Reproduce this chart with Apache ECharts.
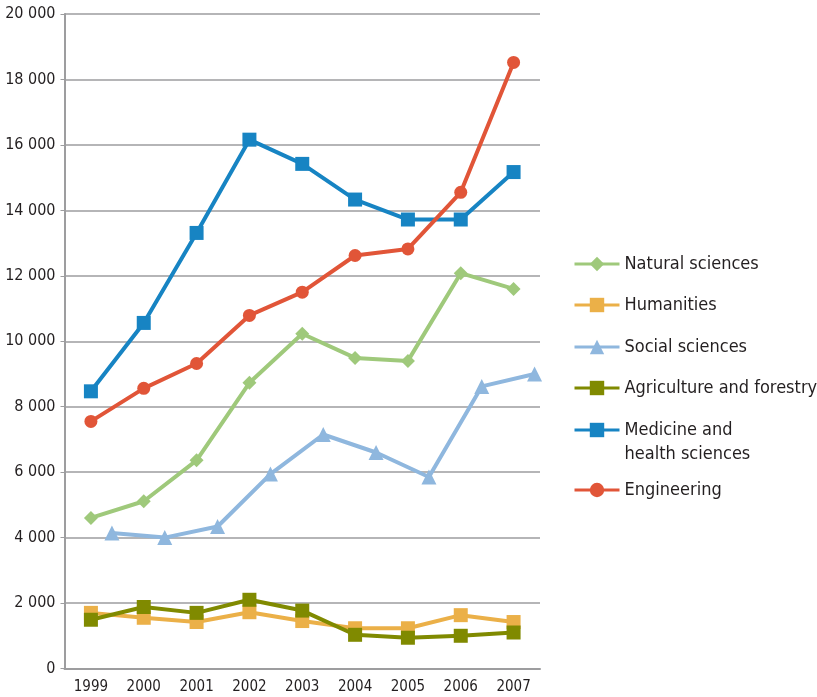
<!DOCTYPE html>
<html>
<head>
<meta charset="utf-8">
<script src="https://cdn.jsdelivr.net/npm/echarts@6/dist/echarts.min.js"></script>
<style>
  html, body { margin: 0; padding: 0; background: #fff; }
  #chart { width: 817px; height: 697px; }
</style>
</head>
<body>
<div id="chart"></div>
<script>
// Categories and series values
const years = ['1999', '2000', '2001', '2002', '2003', '2004', '2005', '2006', '2007'];
const naturalSciences = [4600, 5110, 6360, 8730, 10230, 9490, 9400, 12080, 11600];
const humanities = [1700, 1550, 1420, 1720, 1450, 1230, 1230, 1630, 1420];
const socialSciences = [4140, 4000, 4340, 5940, 7150, 6600, 5850, 8620, 9000];
const agricultureForestry = [1490, 1880, 1700, 2100, 1770, 1030, 940, 1000, 1100];
const medicineHealth = [8470, 10560, 13310, 16160, 15420, 14330, 13720, 13720, 15170];
const engineering = [7550, 8560, 9320, 10790, 11500, 12620, 12820, 14550, 18520];
const yTicks = [0, 2000, 4000, 6000, 8000, 10000, 12000, 14000, 16000, 18000, 20000];

const FONT = "'DejaVu Sans Condensed', 'DejaVu Sans', sans-serif";
const TEXT = '#231f20';
const GRID_COLOR = '#9d9d9f';

const names = ['Natural sciences', 'Humanities', 'Social sciences', 'Agriculture and forestry',
  'Medicine and health sciences', 'Engineering'];
const colors = ['#9fc97b', '#ebb048', '#8fb7de', '#808a00', '#1784c3', '#e15538'];
const symbols = ['diamond', 'rect', 'triangle', 'rect', 'rect', 'circle'];
const symbolSizes = [14, 14, 15, 14, 14, 13];
const seriesData = [naturalSciences, humanities, socialSciences, agricultureForestry, medicineHealth, engineering];
const legendTops = [252, 293, 335, 376, 394, 478];

const fmt = v => v === 0 ? '0' : String(v).replace(/\B(?=(\d{3})+(?!\d))/g, ' ');

// Legend label text; the two-line entry gets a blank first line so that
// "Medicine and" sits level with its icon
const legendLabel = name => name === 'Medicine and health sciences'
  ? '\nMedicine and\nhealth sciences' : name;

const chart = echarts.init(document.getElementById('chart'), null, { renderer: 'canvas' });

const gridBase = { top: 14, bottom: 28.5, width: 475.5, outerBoundsMode: 'none', containLabel: false };

const option = {
  animation: false,
  backgroundColor: '#fff',
  textStyle: { fontFamily: FONT },
  grid: [
    Object.assign({ left: 64.5 }, gridBase),
    // social sciences are plotted slightly to the right of the year marks
    Object.assign({ left: 85.5 }, gridBase)
  ],
  xAxis: [
    {
      type: 'category', gridIndex: 0, data: years, boundaryGap: true,
      axisLine: { lineStyle: { color: GRID_COLOR, width: 2 } },
      axisTick: { show: false },
      axisLabel: { color: TEXT, fontSize: 15, fontFamily: FONT, margin: 11 },
      splitLine: { show: false }
    },
    {
      type: 'category', gridIndex: 1, data: years, boundaryGap: true, show: false
    }
  ],
  yAxis: [
    {
      type: 'value', gridIndex: 0, min: 0, max: 20000, interval: 2000,
      axisLine: { show: true, lineStyle: { color: GRID_COLOR, width: 2 } },
      axisTick: { show: true, length: 4, lineStyle: { color: GRID_COLOR, width: 1 } },
      axisLabel: {
        color: TEXT, fontSize: 16, fontFamily: FONT, margin: 9,
        formatter: v => yTicks.includes(v) ? fmt(v) : ''
      },
      splitLine: { show: true, lineStyle: { color: GRID_COLOR, width: 1.5 } }
    },
    {
      type: 'value', gridIndex: 1, min: 0, max: 20000, interval: 2000, show: false,
      splitLine: { show: false }
    }
  ],
  legend: names.map((n, i) => ({
    data: [n],
    orient: 'vertical',
    left: 573,
    top: legendTops[i],
    padding: 0,
    itemWidth: 45,
    itemHeight: 18,
    itemGap: 0,
    lineStyle: { width: 3 },
    textStyle: { color: TEXT, fontSize: 18, fontFamily: FONT, lineHeight: 24 },
    formatter: legendLabel
  })),
  series: names.map((n, i) => ({
    name: n,
    type: 'line',
    xAxisIndex: i === 2 ? 1 : 0,
    yAxisIndex: i === 2 ? 1 : 0,
    data: seriesData[i],
    symbol: symbols[i],
    symbolSize: symbolSizes[i],
    showAllSymbol: true,
    itemStyle: { color: colors[i] },
    lineStyle: { color: colors[i], width: 4 },
    z: 2 + i
  }))
};

chart.setOption(option);
</script>
</body>
</html>
